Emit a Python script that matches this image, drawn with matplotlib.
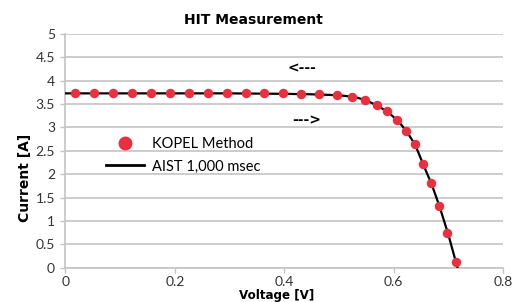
import matplotlib
matplotlib.use("Agg")
import matplotlib.pyplot as plt
from matplotlib.lines import Line2D

# Data
kopel_v = [0.017, 0.052, 0.087, 0.122, 0.156, 0.191, 0.226, 0.260, 0.295, 0.330,
           0.363, 0.397, 0.431, 0.464, 0.496, 0.524, 0.548, 0.569, 0.588, 0.607,
           0.623, 0.639, 0.654, 0.669, 0.684, 0.698, 0.714]
kopel_i = [3.73, 3.73, 3.73, 3.73, 3.73, 3.73, 3.73, 3.73, 3.73, 3.73,
           3.73, 3.73, 3.72, 3.71, 3.69, 3.66, 3.59, 3.48, 3.35, 3.17,
           2.92, 2.64, 2.21, 1.81, 1.31, 0.74, 0.13]
aist_v = [0.0, 0.10, 0.20, 0.30, 0.40, 0.45, 0.50, 0.53, 0.55, 0.57, 0.59, 0.61,
          0.625, 0.64, 0.655, 0.67, 0.685, 0.70, 0.717]
aist_i = [3.73, 3.73, 3.73, 3.73, 3.72, 3.71, 3.69, 3.65, 3.58, 3.47, 3.33, 3.12,
          2.90, 2.62, 2.19, 1.78, 1.28, 0.72, 0.0]
x_ticks = [0, 0.2, 0.4, 0.6, 0.8]
x_tick_labels = ["0", "0.2", "0.4", "0.6", "0.8"]
y_ticks = [0, 0.5, 1, 1.5, 2, 2.5, 3, 3.5, 4, 4.5, 5]
y_tick_labels = ["0", "0.5", "1", "1.5", "2", "2.5", "3", "3.5", "4", "4.5", "5"]

red = "#e8303f"
grid_c = "#c4c4c4"
tick_font = "Lato"

fig = plt.figure(figsize=(5.26, 3.02), dpi=100)
ax = fig.add_axes([0.1245, 0.1136, 0.8315, 0.7738])

ax.plot(aist_v, aist_i, color="black", lw=1.6, zorder=3)
ax.plot(kopel_v, kopel_i, "o", color=red, ms=5.8, mec=red, zorder=4)

ax.set_xlim(0, 0.8)
ax.set_ylim(0, 5)
ax.set_xticks(x_ticks)
ax.set_xticklabels(x_tick_labels, fontfamily=tick_font, fontsize=10, color="#333333")
ax.set_yticks(y_ticks)
ax.set_yticklabels(y_tick_labels, fontfamily=tick_font, fontsize=10, color="#333333")
ax.tick_params(axis="both", length=3.5, width=1, color=grid_c, pad=4)
ax.tick_params(axis="x", pad=2.5)
ax.yaxis.grid(True, color=grid_c, lw=1.2)
ax.set_axisbelow(True)
for s in ["top", "right"]:
    ax.spines[s].set_visible(False)
for s in ["left", "bottom"]:
    ax.spines[s].set_color(grid_c)
    ax.spines[s].set_linewidth(1.2)

ax.set_xlabel("Voltage [V]", fontsize=8.6, fontweight="bold", va="center")
ax.xaxis.set_label_coords(0.483, -0.121)
ax.set_ylabel("Current [A]", fontsize=10, fontweight="bold", va="center")
ax.yaxis.set_label_coords(-0.0925, 0.384)

fig.text(253 / 526, 1 - 20 / 302, "HIT Measurement", fontsize=10,
         fontweight="bold", ha="center", va="center")

ax.text(0.406, 4.27, "<---", fontsize=10, fontweight="bold", va="center", ha="left")
ax.text(0.415, 3.15, "--->", fontsize=10, fontweight="bold", va="center", ha="left")

handles = [Line2D([], [], ls="none", marker="o", color=red, ms=9),
           Line2D([], [], color="black", lw=2)]
ax.legend(handles, ["KOPEL Method", "AIST 1,000 msec"], frameon=False,
          prop={"family": tick_font, "size": 10.5}, loc="upper left",
          bbox_to_anchor=(0.08, 0.585), handlelength=2.6, handletextpad=0.55,
          labelspacing=0.6, borderaxespad=0)

fig.savefig("out.png", dpi=100)
